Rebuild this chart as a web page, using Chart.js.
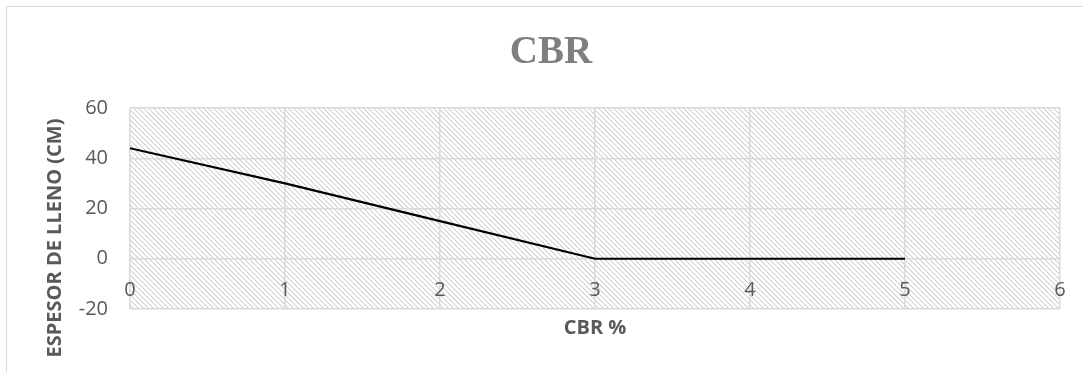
<!DOCTYPE html>
<html>
<head>
<meta charset="utf-8">
<script src="https://cdn.jsdelivr.net/npm/chart.js@4.4.1/dist/chart.umd.min.js"></script>
<style>
  html, body { margin: 0; padding: 0; background: #ffffff; }
  #wrap { width: 1083px; height: 372px; }
</style>
</head>
<body>
<div id="wrap"><canvas id="c" width="1083" height="372"></canvas></div>
<script>
// Fill thickness (cm) against CBR (%)
const cbrPercent = [0, 1, 2, 3, 4, 5];
const espesorCm = [44, 30, 15, 0, 0, 0];

// Axis ranges and tick steps
const xRange = [0, 6];
const xStep = 1;
const yRange = [-20, 60];
const yStep = 20;

const chartTitle = 'CBR';
const xTitle = 'CBR %';
const yTitle = 'ESPESOR DE LLENO (CM)';

const GRID = '#d9d9d9';
const TEXT = '#595959';

// Diagonal hatch used as the plot-area fill
function makeHatch() {
  const t = document.createElement('canvas');
  t.width = 5; t.height = 5;
  const g = t.getContext('2d');
  g.fillStyle = '#ffffff';
  g.fillRect(0, 0, 5, 5);
  for (let i = 0; i < 5; i++) {
    g.fillStyle = '#cdcdcd';
    g.fillRect(i, i, 1, 1);
    g.fillStyle = '#f0f0f0';
    g.fillRect((i + 1) % 5, i, 1, 1);
  }
  return t;
}

const frameAndHatch = {
  id: 'frameAndHatch',
  beforeDraw(chart) {
    const { ctx, chartArea: a } = chart;
    ctx.save();
    ctx.fillStyle = '#ffffff';
    ctx.fillRect(0, 0, chart.width, chart.height);
    ctx.strokeStyle = GRID;
    ctx.lineWidth = 1;
    ctx.strokeRect(6.5, 6.5, 1200, 600);
    ctx.fillStyle = ctx.createPattern(makeHatch(), 'repeat');
    ctx.fillRect(a.left, a.top, a.right - a.left, a.bottom - a.top);
    ctx.restore();
  }
};

const verticalTitle = {
  id: 'verticalTitle',
  afterDraw(chart) {
    const { ctx } = chart;
    ctx.save();
    ctx.translate(55, 238);
    ctx.rotate(-Math.PI / 2);
    ctx.font = 'bold 20px "Open Sans"';
    ctx.fillStyle = TEXT;
    ctx.textAlign = 'center';
    ctx.textBaseline = 'middle';
    ctx.fillText(yTitle, 0, 0);
    ctx.restore();
  }
};

new Chart(document.getElementById('c'), {
  type: 'line',
  data: {
    datasets: [{
      data: cbrPercent.map((x, i) => ({ x, y: espesorCm[i] })),
      borderColor: '#000000',
      borderWidth: 2.2,
      pointRadius: 0,
      tension: 0,
      fill: false
    }]
  },
  options: {
    responsive: false,
    devicePixelRatio: 1,
    animation: false,
    layout: { padding: { left: 42, right: 23, top: 0, bottom: 0 } },
    plugins: {
      legend: { display: false },
      tooltip: { enabled: false },
      title: {
        display: true,
        text: chartTitle,
        color: '#7f7f7f',
        font: { family: '"Liberation Serif"', size: 39, weight: 'bold', lineHeight: 1.2 },
        padding: { top: 30, bottom: 31.2 }
      }
    },
    scales: {
      x: {
        type: 'linear',
        min: xRange[0],
        max: xRange[1],
        ticks: {
          stepSize: xStep,
          mirror: true,
          padding: 7,
          color: TEXT,
          font: { family: '"Open Sans"', size: 20 },
          maxRotation: 0
        },
        grid: { color: GRID, lineWidth: 1.5, drawTicks: false },
        border: { display: false },
        title: {
          display: true,
          text: xTitle,
          color: TEXT,
          font: { family: '"Open Sans"', size: 20, weight: 'bold', lineHeight: 1.2 },
          padding: { top: 0, bottom: 32 }
        },
        afterFit(scale) { scale.height = 63; }
      },
      y: {
        min: yRange[0],
        max: yRange[1],
        ticks: {
          stepSize: yStep,
          padding: 22,
          color: TEXT,
          font: { family: '"Open Sans"', size: 20 }
        },
        grid: { color: GRID, lineWidth: 1.5, drawTicks: false },
        border: { display: false },
        afterFit(scale) { scale.width = 88; }
      }
    }
  },
  plugins: [frameAndHatch, verticalTitle]
});
</script>
</body>
</html>
